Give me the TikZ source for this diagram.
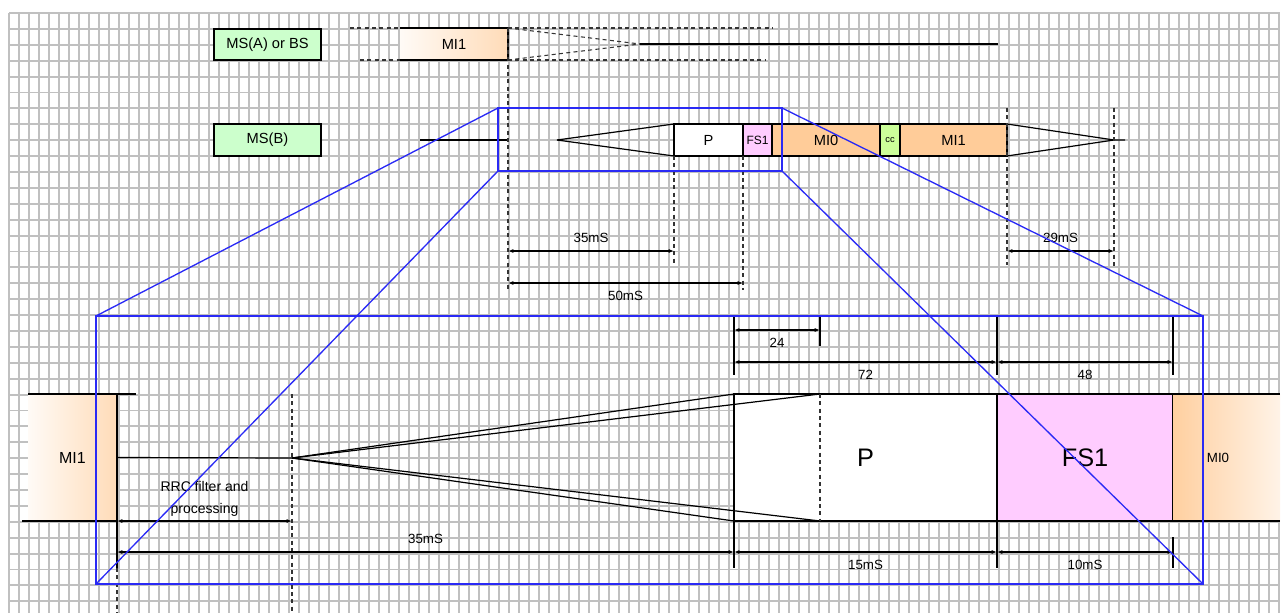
\documentclass[tikz,border=0pt]{standalone}
\usepackage{fontspec}
\setmainfont{Liberation Sans}
\usetikzlibrary{arrows.meta,positioning}

\definecolor{gridgray}{HTML}{C0C0C0}
\definecolor{msgreen}{HTML}{CCFFCC}
\definecolor{miorange}{HTML}{FFCC99}
\definecolor{fspink}{HTML}{FFCCFF}
\definecolor{ccgreen}{HTML}{CCFF99}
\definecolor{zoomblue}{HTML}{2A2AF5}

\pgfdeclarehorizontalshading{fadein}{100bp}{color(0bp)=(white); color(18bp)=(white); color(100bp)=(miorange)}
\pgfdeclarehorizontalshading{fadeout}{100bp}{color(0bp)=(miorange); color(20bp)=(miorange); color(92bp)=(white); color(100bp)=(white)}

\begin{document}
\begin{tikzpicture}[
  x=0.75pt, y=-0.75pt,
  font=\fontsize{11}{13}\selectfont,
  gridline/.style={draw=gridgray, line width=1.4pt},
  slot/.style={
    draw=black,
    line width=0.9pt,
    inner sep=0pt,
    outer sep=0pt,
    minimum height=24pt
  },
  tag/.style={slot, fill=msgreen, minimum width=80.25pt, minimum height=23.25pt},
  fade/.style={inner sep=0pt, outer sep=0pt},
  big/.style={slot, minimum height=95.25pt, font=\fontsize{19}{22}\selectfont},
  edge/.style={line width=0.9pt, draw=black},
  guide/.style={line width=0.8pt, draw=black!80, dash pattern=on 3pt off 2.5pt},
  zoom/.style={line width=1pt, draw=zoomblue},
  dim/.style={{Latex[length=4pt,width=3pt]}-{Latex[length=4pt,width=3pt]}, line width=0.8pt},
  dimtext/.style={font=\fontsize{10}{12}\selectfont, inner sep=2pt}
]
\useasboundingbox (0,0) rectangle (1284,613);

% background grid
\foreach \gx in {9,19,...,1279}
  \draw[gridline] (\gx,13) -- (\gx,613);
\foreach \gy in {13,28.9,...,613}
  \draw[gridline] (9,\gy) -- (1280,\gy);

% ---------- MS(A) or BS ----------
\node[tag] (msa) at (267.5,44.5) {MS(A) or BS};
\node[fade, shading=fadein, minimum width=81pt, minimum height=24pt] (mia) at (454,44) {MI1};
\draw[edge] (mia.north west) -- (mia.north east) -- (mia.south east) -- (mia.south west);
\coordinate (atopl) at (350,28);
\coordinate (atopr) at (773,28);
\coordinate (abotl) at (360,60);
\coordinate (abotr) at (765,60);
\coordinate (atip) at (640,44);
\coordinate (aend) at (998,44);
\draw[guide] (atopl) -- (mia.north west);
\draw[guide] (abotl) -- (mia.south west);
\draw[guide] (mia.north east) -- (atopr);
\draw[guide] (mia.south east) -- (abotr);
\draw[guide] (mia.north east) -- (atip);
\draw[guide] (mia.south east) -- (atip);
\draw[edge] (atip) -- (aend);

% ---------- MS(B) ----------
\node[tag, minimum height=24pt] (msb) at (267.5,140) {MS(B)};
\node[slot, fill=white, minimum width=51.75pt] (pb) at (708.5,140) {P};
\node[slot, fill=fspink, minimum width=21.75pt, font=\fontsize{9}{10}\selectfont] (fsb) at (757.5,140) {FS1};
\node[slot, fill=miorange, minimum width=81pt] (mi0b) at (826,140) {MI0};
\node[slot, fill=ccgreen, minimum width=15pt, font=\fontsize{7}{8}\selectfont] (ccb) at (890,140) {cc};
\node[slot, fill=miorange, minimum width=80.25pt] (mi1b) at (953.5,140) {MI1};
\coordinate (bin) at (420,140);
\coordinate (bstart) at (508,140);
\coordinate (bapex) at (557,140);
\coordinate (btip) at (1114,140);
\coordinate (bout) at (1125,140);
\draw[edge] (bin) -- (bstart);
\draw[edge] (bapex) -- (pb.north west);
\draw[edge] (bapex) -- (pb.south west);
\draw[edge] (mi1b.north east) -- (btip);
\draw[edge] (mi1b.south east) -- (btip) -- (bout);

% guides and timings of MS(B)
\coordinate (g508) at (508,290);
\coordinate (g674) at (674,265);
\coordinate (g743) at (743,290);
\coordinate (g1007t) at (1007,108);
\coordinate (g1007) at (1007,265);
\coordinate (g1114t) at (1114,108);
\coordinate (g1114) at (1114,268);
\draw[guide] (mia.north east) -- (g508);
\draw[guide] (pb.south west) -- (g674);
\draw[guide] (fsb.south west) -- (g743);
\draw[guide] (g1007t) -- (g1007);
\draw[guide] (g1114t) -- (g1114);

\coordinate (d35l) at (508,251);
\coordinate (d35r) at (674,251);
\coordinate (d50l) at (508,283);
\coordinate (d50r) at (743,283);
\coordinate (d29l) at (1007,251);
\coordinate (d29r) at (1114,251);
\draw[dim] (d35l) -- (d35r) node[dimtext, midway, above=4pt] (t35) {35mS};
\draw[dim] (d50l) -- (d50r) node[dimtext, midway, below=4pt] (t50) {50mS};
\draw[dim] (d29l) -- (d29r) node[dimtext, midway, above=4pt] (t29) {29mS};

% ---------- enlarged view ----------
\node[fade, shading=fadein, minimum width=66.75pt, minimum height=95.25pt,
  font=\fontsize{12}{14}\selectfont] (mil) at (72.5,457.5) {MI1};
\node[big, fill=white, minimum width=197.25pt] (pl) at (865.5,457.5) {P};
\node[big, fill=fspink, minimum width=132pt] (fsl) at (1085,457.5) {FS1};
\node[fade, shading=fadeout, minimum width=80.25pt, minimum height=95.25pt] (mi0l) at (1226.5,457.5) {};
\node[font=\fontsize{10}{12}\selectfont] (mi0t) at (1218,458) {MI0};

\coordinate (ltopl) at (28,394);
\coordinate (ltopr) at (136,394);
\coordinate (lbotl) at (22,521);
\coordinate (rtop) at (1280,394);
\coordinate (rbot) at (1280,521);
\draw[edge] (ltopl) -- (ltopr);
\draw[edge] (lbotl) -- (mil.south east);
\draw[edge] (fsl.north east) -- (rtop);
\draw[edge] (fsl.south east) -- (rbot);

\coordinate (lmid) at (117,568);
\coordinate (lend) at (117,613);
\draw[edge] (mil.north east) -- (lmid);
\draw[guide] (lmid) -- (lend);

\coordinate (lapex) at (292,458);
\coordinate (lguidet) at (292,394);
\coordinate (lguideb) at (292,613);
\coordinate (pqt) at (820,394);
\coordinate (pqb) at (820,521);
\draw[edge] (mil.east) -- (lapex);
\draw[guide] (lguidet) -- (lguideb);
\draw[edge] (lapex) -- (pl.north west);
\draw[edge] (lapex) -- (pl.south west);
\draw[edge] (lapex) -- (pqt);
\draw[edge] (lapex) -- (pqb);
\draw[guide] (pqt) -- (pqb);

% sample counts
\coordinate (e734) at (734,316);
\coordinate (e734b) at (734,375);
\coordinate (e820) at (820,316);
\coordinate (e820b) at (820,346);
\coordinate (e997) at (997,316);
\coordinate (e997b) at (997,375);
\coordinate (e1173) at (1173,316);
\coordinate (e1173b) at (1173,375);
\draw[edge] (e734) -- (e734b);
\draw[edge] (e820) -- (e820b);
\draw[edge] (e997) -- (e997b);
\draw[edge] (e1173) -- (e1173b);
\coordinate (n24l) at (734,330);
\coordinate (n24r) at (820,330);
\coordinate (n72l) at (734,362);
\coordinate (n72r) at (997,362);
\coordinate (n48r) at (1173,362);
\draw[dim] (n24l) -- (n24r) node[dimtext, midway, below=4pt] (t24) {24};
\draw[dim] (n72l) -- (n72r) node[dimtext, midway, below=4pt] (t72) {72};
\draw[dim] (n72r) -- (n48r) node[dimtext, midway, below=4pt] (t48) {48};

% timings
\coordinate (f734) at (734,568);
\coordinate (f997) at (997,568);
\coordinate (f1173t) at (1173,537);
\coordinate (f1173) at (1173,568);
\draw[edge] (pl.south west) -- (f734);
\draw[edge] (fsl.south west) -- (f997);
\draw[edge] (f1173t) -- (f1173);
\coordinate (rrcl) at (117,521);
\coordinate (rrcr) at (292,521);
\coordinate (m117) at (117,552);
\coordinate (m734) at (734,552);
\coordinate (m997) at (997,552);
\coordinate (m1173) at (1173,552);
\draw[dim] (rrcl) -- (rrcr) node[midway, above=0pt, align=center, font=\fontsize{10.5}{16.5}\selectfont] (trrc) {RRC filter and\\processing};
\draw[dim] (m117) -- (m734) node[dimtext, midway, above=4pt] (t35b) {35mS};
\draw[dim] (m734) -- (m997) node[dimtext, midway, below=4pt] (t15) {15mS};
\draw[dim] (m997) -- (m1173) node[dimtext, midway, below=4pt] (t10) {10mS};

% ---------- zoom window ----------
\node[zoom, inner sep=0pt, outer sep=0pt, minimum width=213pt, minimum height=47.25pt] (win) at (640,139.5) {};
\node[zoom, inner sep=0pt, outer sep=0pt, minimum width=830.25pt, minimum height=201pt] (view) at (649.5,450) {};
\draw[zoom] (win.north west) -- (view.north west);
\draw[zoom] (win.north east) -- (view.north east);
\draw[zoom] (win.south west) -- (view.south west);
\draw[zoom] (win.south east) -- (view.south east);

\end{tikzpicture}
\end{document}
